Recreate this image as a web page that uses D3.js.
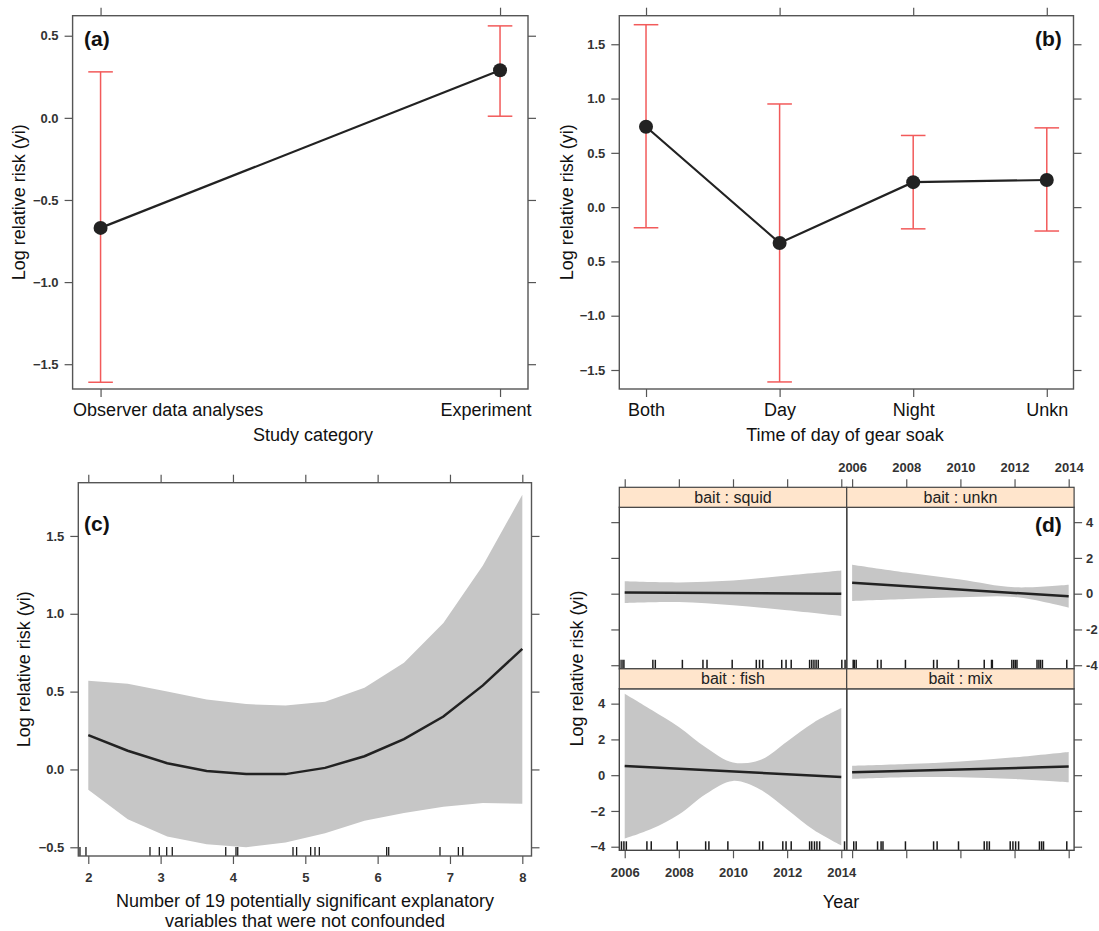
<!DOCTYPE html>
<html>
<head>
<meta charset="utf-8">
<script src="https://cdn.jsdelivr.net/npm/d3@7"></script>
<style>
body { margin: 0; background: #fff; }
svg { font-family: "Liberation Sans", Arial, sans-serif; }
.box { fill: none; stroke: #555; stroke-width: 1.4; }
.tick line { stroke: #555; stroke-width: 1.2; }
.tick text { fill: #333; font-size: 13px; font-weight: bold; }
.title { font-size: 18px; fill: #111; }
.tag { font-size: 21px; font-weight: bold; fill: #111; }
.err { stroke: #f25a5a; stroke-width: 1.5; fill: none; }
.fit { stroke: #222; stroke-width: 2.2; fill: none; }
.band { fill: #c6c6c6; }
.rug { stroke: #1a1a1a; stroke-width: 1.3; }
.strip { fill: #ffe5cc; stroke: #444; stroke-width: 1.2; }
.striptext { font-size: 16px; fill: #222; }
</style>
</head>
<body>
<svg id="fig" width="1099" height="931"></svg>
<script>
// (a) study category
var studyCats = ["Observer data analyses", "Experiment"];
var studyFit = [-0.67, 0.29];
var studyLo = [-1.61, 0.01];
var studyHi = [0.28, 0.56];
var aTicks = [-1.5, -1.0, -0.5, 0.0, 0.5];
var aTickLabels = ["\u22121.5", "\u22121.0", "\u22120.5", "0.0", "0.5"];

// (b) time of day of gear soak
var soakCats = ["Both", "Day", "Night", "Unkn"];
var soakFit = [0.74, -0.33, 0.23, 0.25];
var soakLo = [-0.19, -1.61, -0.20, -0.22];
var soakHi = [1.68, 0.95, 0.66, 0.73];
var bTicks = [-1.5, -1.0, -0.5, 0.0, 0.5, 1.0, 1.5];
var bTickLabels = ["\u22121.5", "\u22121.0", "0.5", "0.0", "0.5", "1.0", "1.5"];

// (c) number of unconfounded variables
var confX = [2, 2.545, 3.091, 3.636, 4.182, 4.727, 5.273, 5.818, 6.364, 6.909, 7.455, 8];
var confFit = [0.22, 0.12, 0.04, -0.01, -0.03, -0.03, 0.01, 0.085, 0.195, 0.34, 0.54, 0.775];
var confHi = [0.57, 0.55, 0.50, 0.45, 0.42, 0.41, 0.435, 0.525, 0.685, 0.94, 1.31, 1.765];
var confLo = [-0.13, -0.32, -0.43, -0.48, -0.50, -0.47, -0.41, -0.33, -0.28, -0.24, -0.215, -0.22];
var confRug = [1.885, 1.968, 2.853, 2.982, 3.084, 3.161, 3.90, 4.042, 4.066, 4.83, 4.88,
  5.074, 5.134, 5.194, 6.125, 6.153, 6.862, 7.116, 7.177];
var cXTicks = [2, 3, 4, 5, 6, 7, 8];
var cYTicks = [-0.5, 0.0, 0.5, 1.0, 1.5];
var cYTickLabels = ["\u22120.5", "0.0", "0.5", "1.0", "1.5"];

// (d) year by bait
var yearTicks = [2006, 2008, 2010, 2012, 2014];
var dYTicks = [-4, -2, 0, 2, 4];
var dYTickLabels = ["\u22124", "\u22122", "0", "2", "4"];
var dYTickLabelsRight = ["-4", "-2", "0", "2", "4"];
var fitYears = [2006, 2014];
var bandYears5 = [2006, 2008, 2010, 2012, 2014];
var bandYears9 = [2006, 2007, 2008, 2009, 2010, 2011, 2012, 2013, 2014];

var squidFit = [0.06, 0.0];
var squidHi = [0.69, 0.63, 0.74, 1.02, 1.30];
var squidLo = [-0.52, -0.47, -0.65, -0.93, -1.25];
var rugSquid = [2005.82, 2005.90, 2005.97, 2007.04, 2007.13, 2008.13, 2008.89, 2009.04, 2009.97,
  2010.86, 2010.98, 2011.10, 2011.80, 2011.96, 2012.15, 2012.83, 2012.91, 2012.99, 2013.07,
  2013.15, 2014.02, 2014.14];

var unknFit = [0.61, -0.15];
var unknHi = [1.62, 1.18, 0.80, 0.36, 0.50];
var unknLo = [-0.41, -0.30, -0.20, -0.18, -0.78];
var rugUnkn = [2006.04, 2006.08, 2006.15, 2006.94, 2007.07, 2007.97, 2009.01, 2009.14, 2009.93,
  2010.88, 2011.15, 2011.18, 2011.90, 2011.97, 2012.03, 2012.09, 2012.83, 2012.90, 2012.96,
  2013.03, 2013.93];

var fishFit = [0.52, -0.10];
var fishHi = [4.56, 3.65, 2.70, 1.55, 0.71, 0.85, 1.89, 2.96, 3.75];
var fishLo = [-3.55, -3.00, -2.20, -1.05, -0.32, -0.80, -1.92, -3.08, -3.93];
var rugFish = [2005.88, 2005.97, 2006.06, 2006.82, 2006.98, 2007.94, 2008.99, 2009.11, 2009.81,
  2010.98, 2011.10, 2011.84, 2011.96, 2012.15, 2012.83, 2012.91, 2013.01, 2013.10, 2013.20,
  2014.12];

var mixFit = [0.17, 0.48];
var mixHi = [0.52, 0.62, 0.77, 1.00, 1.30];
var mixLo = [-0.21, -0.12, -0.12, -0.22, -0.39];
var rugMix = [2006.06, 2006.15, 2006.94, 2007.07, 2007.14, 2007.97, 2009.01, 2009.14, 2009.93,
  2010.88, 2010.98, 2011.07, 2011.84, 2011.94, 2012.04, 2012.15, 2012.92, 2013.00, 2013.07,
  2013.93];

var svg = d3.select("#fig");
var TK = 8; // tick length

function axis(g, gen, tx, ty) {
  var a = g.append("g").attr("transform", "translate(" + tx + "," + ty + ")").call(gen);
  a.select(".domain").remove();
  return a;
}

function yTitle(g, x, y, txt) {
  g.append("text").attr("class", "title")
    .attr("transform", "translate(" + x + "," + y + ") rotate(-90)")
    .attr("text-anchor", "middle").attr("dy", "0.35em").text(txt);
}

// categorical panel with error bars (a, b)
function catPanel(o) {
  var g = svg.append("g");
  var x = d3.scalePoint().domain(o.cats).range([o.x0, o.x1]).padding(o.pad);
  var y = d3.scaleLinear().domain(o.yDom).range([o.y1, o.y0]);

  axis(g, d3.axisLeft(y).tickValues(o.ticks).tickFormat(function(d, i) { return o.labels[i]; })
    .tickSize(TK).tickPadding(6), o.x0, 0);
  axis(g, d3.axisRight(y).tickValues(o.ticks).tickFormat("").tickSize(TK), o.x1, 0);
  axis(g, d3.axisTop(x).tickFormat("").tickSize(TK), 0, o.y0);
  var bot = axis(g, d3.axisBottom(x).tickSize(TK).tickPadding(6), 0, o.y1);
  bot.selectAll("text").style("font-size", "18px").style("font-weight", "normal").style("fill", "#111");
  if (o.edgeLabels) {
    bot.selectAll("text").each(function(d, i) {
      var t = d3.select(this);
      if (i === 0) t.attr("text-anchor", "start").attr("x", o.x0 - x(d));
      else t.attr("text-anchor", "end").attr("x", o.x1 + 3 - x(d));
    });
  }

  g.append("rect").attr("class", "box")
    .attr("x", o.x0).attr("y", o.y0).attr("width", o.x1 - o.x0).attr("height", o.y1 - o.y0);

  var cap = 12.3;
  o.cats.forEach(function(c, i) {
    var cx = x(c);
    g.append("line").attr("class", "err").attr("x1", cx).attr("x2", cx)
      .attr("y1", y(o.lo[i])).attr("y2", y(o.hi[i]));
    [o.lo[i], o.hi[i]].forEach(function(v) {
      g.append("line").attr("class", "err").attr("x1", cx - cap).attr("x2", cx + cap)
        .attr("y1", y(v)).attr("y2", y(v));
    });
  });

  var line = d3.line().x(function(d, i) { return x(o.cats[i]); }).y(function(d) { return y(d); });
  g.append("path").datum(o.fit).attr("class", "fit").attr("d", line);
  g.selectAll("circle.pt").data(o.fit).enter().append("circle")
    .attr("cx", function(d, i) { return x(o.cats[i]); })
    .attr("cy", function(d) { return y(d); })
    .attr("r", 7).attr("fill", "#222");

  yTitle(g, o.yTitleX, (o.y0 + o.y1) / 2, "Log relative risk (yi)");
  g.append("text").attr("class", "title").attr("text-anchor", "middle")
    .attr("x", o.titleX).attr("y", 441).text(o.title);
  g.append("text").attr("class", "tag").attr("x", o.tagX).attr("y", 46).text(o.tag);
}

catPanel({
  cats: studyCats, fit: studyFit, lo: studyLo, hi: studyHi,
  x0: 72.6, x1: 528, y0: 15.7, y1: 389, pad: 0.07, yDom: [-1.651, 0.622],
  ticks: aTicks, labels: aTickLabels, edgeLabels: true,
  yTitleX: 19, titleX: 313, title: "Study category", tag: "(a)", tagX: 84
});

catPanel({
  cats: soakCats, fit: soakFit, lo: soakLo, hi: soakHi,
  x0: 619.3, x1: 1073.5, y0: 15.7, y1: 389, pad: 0.2, yDom: [-1.675, 1.763],
  ticks: bTicks, labels: bTickLabels, edgeLabels: false,
  yTitleX: 567, titleX: 845, title: "Time of day of gear soak", tag: "(b)", tagX: 1035
});

// (c)
(function() {
  var g = svg.append("g");
  var x0 = 78.3, x1 = 531.5, y0 = 482.7, y1 = 856;
  var x = d3.scaleLinear().domain([1.862, 8.127]).range([x0, x1]);
  var y = d3.scaleLinear().domain([-0.556, 1.842]).range([y1, y0]);

  var area = d3.area().x(function(d, i) { return x(confX[i]); })
    .y0(function(d, i) { return y(confLo[i]); }).y1(function(d) { return y(d); });
  g.append("path").datum(confHi).attr("class", "band").attr("d", area);
  var line = d3.line().x(function(d, i) { return x(confX[i]); }).y(function(d) { return y(d); });
  g.append("path").datum(confFit).attr("class", "fit").style("stroke-width", 2.5).attr("d", line);

  g.selectAll("line.rug").data(confRug).enter().append("line").attr("class", "rug")
    .attr("x1", function(d) { return x(d); }).attr("x2", function(d) { return x(d); })
    .attr("y1", y1).attr("y2", y1 - 9);

  axis(g, d3.axisLeft(y).tickValues(cYTicks).tickFormat(function(d, i) { return cYTickLabels[i]; })
    .tickSize(TK).tickPadding(6), x0, 0);
  axis(g, d3.axisRight(y).tickValues(cYTicks).tickFormat("").tickSize(TK), x1, 0);
  axis(g, d3.axisTop(x).tickValues(cXTicks).tickFormat("").tickSize(TK), 0, y0);
  axis(g, d3.axisBottom(x).tickValues(cXTicks).tickFormat(d3.format("d")).tickSize(TK).tickPadding(8.5), 0, y1);

  g.append("rect").attr("class", "box")
    .attr("x", x0).attr("y", y0).attr("width", x1 - x0).attr("height", y1 - y0);

  yTitle(g, 24, (y0 + y1) / 2, "Log relative risk (yi)");
  g.append("text").attr("class", "title").attr("text-anchor", "middle")
    .attr("x", 305).attr("y", 907).text("Number of 19 potentially significant explanatory");
  g.append("text").attr("class", "title").attr("text-anchor", "middle")
    .attr("x", 305).attr("y", 927).text("variables that were not confounded");
  g.append("text").attr("class", "tag").attr("x", 84).attr("y", 531).text("(c)");
})();

// (d)
(function() {
  var g = svg.append("g");
  var colX = [619.3, 846.7], colW = 227.4;
  var stripTop = [487.3, 668.8], stripH = 20, panH = 161.5;
  var panels = [
    { name: "squid", col: 0, row: 0, fit: squidFit, yrs: bandYears5, hi: squidHi, lo: squidLo, rug: rugSquid },
    { name: "unkn", col: 1, row: 0, fit: unknFit, yrs: bandYears5, hi: unknHi, lo: unknLo, rug: rugUnkn },
    { name: "fish", col: 0, row: 1, fit: fishFit, yrs: bandYears9, hi: fishHi, lo: fishLo, rug: rugFish },
    { name: "mix", col: 1, row: 1, fit: mixFit, yrs: bandYears5, hi: mixHi, lo: mixLo, rug: rugMix }
  ];

  panels.forEach(function(p) {
    var px = colX[p.col], st = stripTop[p.row], pt = st + stripH, pb = pt + panH;
    var x = d3.scaleLinear().domain([2005.8, 2014.2]).range([px, px + colW]);
    var y = d3.scaleLinear().domain([-4.2, 4.83]).range([pb, pt]);

    var area = d3.area().curve(d3.curveCatmullRom.alpha(0.5))
      .x(function(d, i) { return x(p.yrs[i]); })
      .y0(function(d, i) { return y(p.lo[i]); }).y1(function(d) { return y(d); });
    g.append("path").datum(p.hi).attr("class", "band").attr("d", area);
    var line = d3.line().x(function(d, i) { return x(fitYears[i]); }).y(function(d) { return y(d); });
    g.append("path").datum(p.fit).attr("class", "fit").style("stroke-width", 2.5).attr("d", line);

    g.selectAll(null).data(p.rug).enter().append("line").attr("class", "rug")
      .style("stroke-width", 1.5)
      .attr("x1", function(d) { return x(d); }).attr("x2", function(d) { return x(d); })
      .attr("y1", pb).attr("y2", pb - 9);

    if (p.col === 0) {
      axis(g, d3.axisLeft(y).tickValues(dYTicks).tickSize(TK).tickPadding(6)
        .tickFormat(p.row === 1 ? function(d, i) { return dYTickLabels[i]; } : ""), px, 0);
    } else {
      axis(g, d3.axisRight(y).tickValues(dYTicks).tickSize(TK).tickPadding(4)
        .tickFormat(p.row === 0 ? function(d, i) { return dYTickLabelsRight[i]; } : ""), px + colW, 0);
    }
    if (p.row === 0) {
      axis(g, d3.axisTop(x).tickValues(yearTicks).tickSize(TK).tickPadding(7)
        .tickFormat(p.col === 1 ? d3.format("d") : ""), 0, st);
    } else {
      axis(g, d3.axisBottom(x).tickValues(yearTicks).tickSize(TK).tickPadding(9.5)
        .tickFormat(p.col === 0 ? d3.format("d") : ""), 0, pb);
    }

    g.append("rect").attr("class", "box").style("stroke", "#444")
      .attr("x", px).attr("y", pt).attr("width", colW).attr("height", panH);
    g.append("rect").attr("class", "strip")
      .attr("x", px).attr("y", st).attr("width", colW).attr("height", stripH);
    g.append("text").attr("class", "striptext").attr("text-anchor", "middle")
      .attr("x", px + colW / 2).attr("y", st + 15.5).text("bait : " + p.name);
  });

  yTitle(g, 577, 668.5, "Log relative risk (yi)");
  g.append("text").attr("class", "title").attr("text-anchor", "middle")
    .attr("x", 841).attr("y", 908).text("Year");
  g.append("text").attr("class", "tag").attr("x", 1035).attr("y", 532).text("(d)");
})();
</script>
</body>
</html>
